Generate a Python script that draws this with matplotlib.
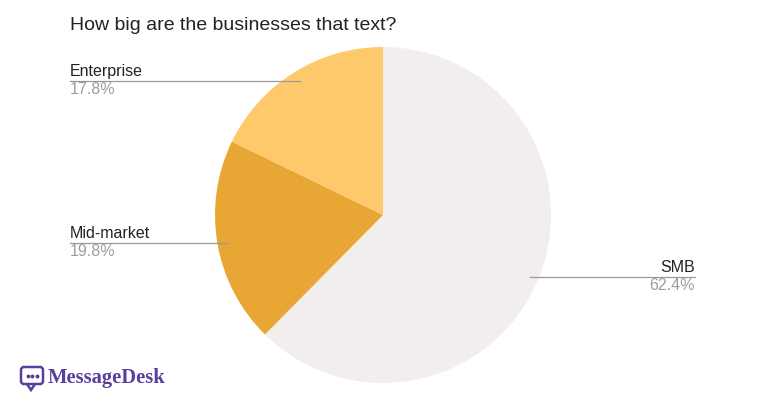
import matplotlib

matplotlib.use("Agg")

import matplotlib.pyplot as plt
from matplotlib.patches import FancyBboxPatch, Polygon

# chart values
segments = ["SMB", "Mid-market", "Enterprise"]
shares = [62.4, 19.8, 17.8]
colors = ["#f3eeee", "#e8a735", "#fdc96a"]

title = "How big are the businesses that text?"
brand = "MessageDesk"

plt.rcParams["font.family"] = ["Liberation Sans", "DejaVu Sans"]

fig = plt.figure(figsize=(7.68, 4.03), dpi=100)
ax = fig.add_axes([0, 0, 1, 1])

# pie drawn in pixel coordinates (y grows downward)
cx, cy, r = 383, 215, 168
ax.pie(shares, colors=colors, startangle=90, counterclock=False,
       center=(cx, -cy), radius=r, wedgeprops=dict(linewidth=0))
ax.set_xlim(0, 768)
ax.set_ylim(-403, 0)
ax.set_aspect("equal")
ax.axis("off")

fig.text(70 / 768, 1 - 25 / 403, title, fontsize=14, color="#222222",
         va="center", ha="left")

# labels with leader lines: (label y, line x0, line x1, text x, ha)
layout = {
    "Enterprise": (81, 70, 300, 70, "left"),
    "Mid-market": (243, 70, 227, 70, "left"),
    "SMB": (277, 530, 695, 695, "right"),
}
for name, pct in zip(segments, shares):
    ly, x0, x1, tx, ha = layout[name]
    ax.plot([x0, x1], [-ly, -ly], color="#9a9a9a", linewidth=0.9)
    ax.text(tx, -ly + 2, name, fontsize=11.5, color="#222222", ha=ha, va="bottom")
    ax.text(tx, -ly - 1, f"{pct:.1f}%", fontsize=11.5, color="#9e9e9e", ha=ha, va="top")

# brand logo
purple = "#5a3d9e"
bubble = FancyBboxPatch((21, -384), 22, 17, boxstyle="round,pad=0,rounding_size=3",
                        fill=False, edgecolor=purple, linewidth=1.8)
ax.add_patch(bubble)
ax.add_patch(Polygon([[27, -384], [31, -390], [35, -384]], closed=False,
                     fill=False, edgecolor=purple, linewidth=1.8))
for dx in (27.5, 32, 36.5):
    ax.plot(dx, -375.5, "o", color=purple, markersize=1.8)
ax.text(48, -378, brand, fontsize=14.8, fontweight="bold", color=purple,
        family="Liberation Serif", va="center", ha="left")

fig.savefig("out.png", dpi=100, facecolor="white")
